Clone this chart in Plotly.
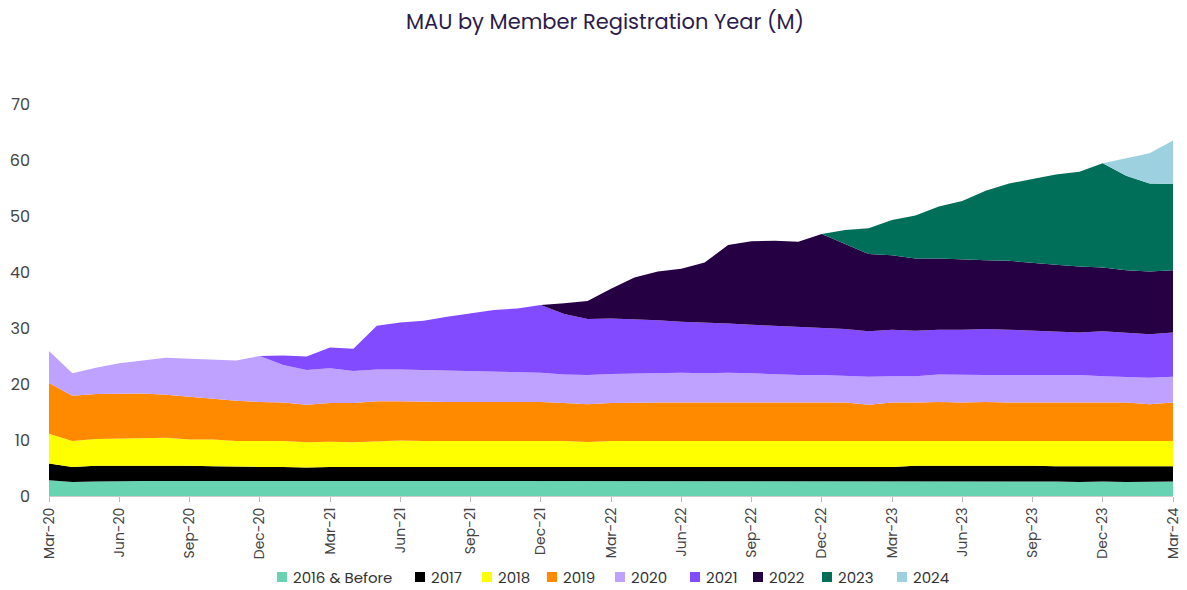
import plotly.graph_objects as go

months = ["Mar-20","Apr-20","May-20","Jun-20","Jul-20","Aug-20","Sep-20","Oct-20","Nov-20","Dec-20",
          "Jan-21","Feb-21","Mar-21","Apr-21","May-21","Jun-21","Jul-21","Aug-21","Sep-21","Oct-21","Nov-21","Dec-21",
          "Jan-22","Feb-22","Mar-22","Apr-22","May-22","Jun-22","Jul-22","Aug-22","Sep-22","Oct-22","Nov-22","Dec-22",
          "Jan-23","Feb-23","Mar-23","Apr-23","May-23","Jun-23","Jul-23","Aug-23","Sep-23","Oct-23","Nov-23","Dec-23",
          "Jan-24","Feb-24","Mar-24"]
tick_labels = months[::3]

y2016 = [2.8,2.5,2.6,2.7,2.7,2.7,2.7,2.7,2.6,2.6,2.6,2.6,2.6,2.6,2.6,2.7,2.7,2.6,2.6,2.7,2.7,2.7,2.6,2.6,2.6,
         2.6,2.7,2.7,2.7,2.7,2.7,2.7,2.6,2.7,2.6,2.6,2.6,2.6,2.7,2.7,2.7,2.7,2.6,2.6,2.5,2.6,2.5,2.6,2.6]
y2017 = [3.0,2.7,2.8,2.7,2.8,2.8,2.7,2.6,2.6,2.6,2.6,2.5,2.6,2.6,2.6,2.5,2.5,2.6,2.6,2.5,2.5,2.5,2.6,2.6,2.6,
         2.6,2.5,2.5,2.5,2.5,2.5,2.5,2.6,2.5,2.6,2.6,2.6,2.8,2.7,2.7,2.8,2.8,2.8,2.7,2.8,2.7,2.8,2.7,2.7]
y2018 = [5.3,4.6,4.8,4.9,4.9,4.9,4.7,4.8,4.6,4.6,4.6,4.5,4.5,4.4,4.6,4.7,4.6,4.6,4.6,4.6,4.6,4.6,4.6,4.45,4.6,
         4.6,4.6,4.6,4.6,4.6,4.6,4.6,4.6,4.6,4.6,4.6,4.6,4.4,4.5,4.4,4.3,4.3,4.4,4.5,4.5,4.5,4.5,4.5,4.5]
y2019 = [9.1,8.1,8.0,8.0,7.9,7.7,7.6,7.3,7.2,7.0,6.9,6.7,6.9,7.0,7.1,7.0,7.0,7.0,7.0,7.0,7.0,7.0,6.8,6.75,6.8,
         6.9,6.9,6.9,6.9,6.9,6.9,6.9,6.9,6.9,6.9,6.5,6.9,6.9,6.9,6.9,7.0,6.9,6.9,6.9,6.9,6.9,6.9,6.6,6.9]
y2020 = [5.7,4.0,4.7,5.4,5.9,6.6,6.8,7.0,7.2,8.2,6.7,6.2,6.2,5.7,5.7,5.7,5.7,5.7,5.6,5.5,5.4,5.2,5.1,5.2,5.2,
         5.2,5.3,5.3,5.2,5.3,5.2,5.0,4.9,4.9,4.7,5.0,4.7,4.7,4.9,4.9,4.8,4.9,4.9,4.9,4.9,4.7,4.6,4.7,4.6]
y2021 = [0,0,0,0,0,0,0,0,0,0,1.7,2.4,3.7,4.0,7.8,8.4,8.8,9.5,10.2,10.9,11.3,12.1,10.8,10.0,9.9,
         9.7,9.4,9.1,9.1,8.8,8.7,8.7,8.6,8.5,8.4,8.1,8.3,8.1,8.0,8.1,8.2,8.1,7.9,7.7,7.6,8.0,7.8,7.8,7.9]
y2022 = [0,0,0,0,0,0,0,0,0,0,0,0,0,0,0,0,0,0,0,0,0,0,1.9,3.2,5.3,
         7.4,8.7,9.5,10.7,14.0,14.9,15.2,15.2,16.7,15.2,13.8,13.3,12.9,12.7,12.5,12.3,12.3,12.1,12.0,11.8,11.4,11.2,11.2,11.1]
y2023 = [0]*34 + [2.5,4.6,6.3,7.7,9.3,10.5,12.4,13.8,15.0,16.1,16.9,18.6,16.9,15.7,15.4]
y2024 = [0]*46 + [3.1,5.4,7.8]

series_names = ["2016 & Before", "2017", "2018", "2019", "2020", "2021", "2022", "2023", "2024"]
series_values = [y2016, y2017, y2018, y2019, y2020, y2021, y2022, y2023, y2024]
series_colors = ["#68D3B0", "#000000", "#FFFF00", "#FF8A00", "#BFA2FF", "#834BFF", "#250042", "#006F5A", "#9ED1DF"]

# layout geometry (pixels); the page body adds an 8px offset, so the figure is sized to fit
OFF = 8
W, H = 1187 - OFF, 590 - OFF
ML, MR, MT, MB = 49 - OFF, 14, 104 - OFF, 94
PW, PH = W - ML - MR, H - MT - MB

fig = go.Figure()
for name, vals, color in zip(series_names, series_values, series_colors):
    fig.add_trace(go.Scatter(
        x=months, y=vals, name=name, mode="lines",
        stackgroup="one", line=dict(width=0, color=color),
        fillcolor=color, showlegend=False,
    ))

font_family = "Poppins, Inter, 'Open Sans', sans-serif"

# custom legend (squares + text), positioned like the reference (page pixels)
legend_left_px = [277, 415, 482, 547, 615, 690, 753, 822, 897]
legend_y_px = 577
def px_x(p):
    return (p - OFF - ML) / PW
def px_y(p):
    return (H - MB - (p - OFF)) / PH

shapes = []
annotations = []
for name, color, lx in zip(series_names, series_colors, legend_left_px):
    shapes.append(dict(type="rect", xref="paper", yref="paper",
                       x0=px_x(lx), x1=px_x(lx + 10),
                       y0=px_y(legend_y_px + 5), y1=px_y(legend_y_px - 5),
                       fillcolor=color, line=dict(width=0)))
    annotations.append(dict(text=name, xref="paper", yref="paper",
                            x=px_x(lx + 14), y=px_y(legend_y_px),
                            xanchor="left", yanchor="middle", showarrow=False,
                            font=dict(size=15, color="#333333", family=font_family)))

fig.update_layout(
    width=W, height=H,
    margin=dict(l=ML, r=MR, t=MT, b=MB),
    paper_bgcolor="white", plot_bgcolor="white",
    font=dict(family=font_family, color="#444444"),
    title=dict(text="MAU by Member Registration Year (M)", x=(605 - OFF) / W, xanchor="center",
               y=1 - (22 - OFF) / H, yanchor="middle", yref="container",
               font=dict(size=21, color="#2B1B4A", family=font_family)),
    showlegend=False,
    shapes=shapes,
    annotations=annotations,
    xaxis=dict(type="category", range=[0, 48], tickmode="array", tickvals=tick_labels,
               ticktext=tick_labels, tickangle=-90, tickfont=dict(size=14, color="#444444"),
               ticks="outside", ticklen=5, tickcolor="#bbbbbb", showline=True,
               linecolor="#cccccc", showgrid=False, zeroline=False, automargin=False),
    yaxis=dict(range=[0, 70], tickvals=[0, 10, 20, 30, 40, 50, 60, 70], showgrid=False,
               zeroline=False, showline=False, tickfont=dict(size=16, color="#444444"),
               ticks="", ticklabelstandoff=18, automargin=False),
)

fig.write_html("out.html")
